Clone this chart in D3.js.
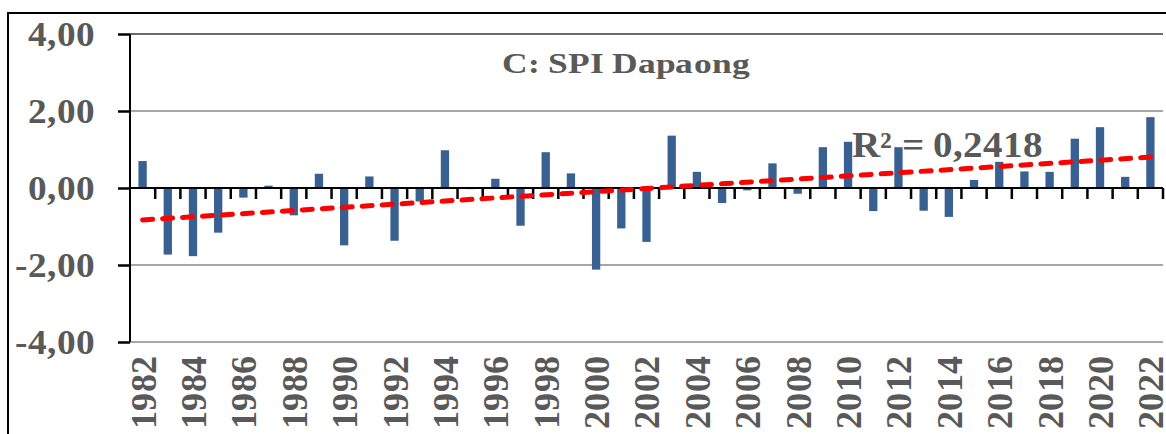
<!DOCTYPE html>
<html>
<head>
<meta charset="utf-8">
<script src="https://cdn.jsdelivr.net/npm/d3@7"></script>
<style>
  @font-face {
    font-family: "TimesBoldLocal";
    src: local("Liberation Serif Bold"), local("LiberationSerif-Bold"),
         local("Times New Roman Bold"), local("TimesNewRomanPS-BoldMT"),
         local("Nimbus Roman Bold"), local("NimbusRoman-Bold"), local("Tinos Bold");
    font-weight: 700;
  }
  html, body { margin: 0; padding: 0; background: #fff; }
  svg { display: block; }
  text { font-family: "TimesBoldLocal", "Liberation Serif", "DejaVu Serif Condensed", serif; font-weight: 700; fill: #595959; }
</style>
</head>
<body>
<script>
const years = d3.range(1982, 2023).map(String);
const spi = [0.70, -1.73, -1.77, -1.16, -0.25, 0.06, -0.71, 0.37, -1.49, 0.30,
             -1.37, -0.35, 0.98, -0.03, 0.24, -0.98, 0.93, 0.38, -2.12, -1.05,
             -1.40, 1.36, 0.42, -0.39, -0.06, 0.64, -0.15, 1.06, 1.20, -0.60,
             1.06, -0.59, -0.75, 0.21, 0.68, 0.43, 0.42, 1.28, 1.58, 0.29, 1.84];
const yTicks = [-4, -2, 0, 2, 4];
const yTickLabels = ["-4,00", "-2,00", "0,00", "2,00", "4,00"];
const xTickLabels = years.filter((d, i) => i % 2 === 0);
const titleText = "C: SPI Dapaong";
const r2Text = "R² = 0,2418";

const FONT = '"TimesBoldLocal", "Liberation Serif", "DejaVu Serif Condensed", serif';
const W = 1166, H = 434;
const svg = d3.select("body").append("svg").attr("width", W).attr("height", H);

// outer frame
svg.append("rect").attr("x", 8).attr("y", 13).attr("width", 1400).attr("height", 800)
  .attr("fill", "none").attr("stroke", "#000").attr("stroke-width", 2);

const x = d3.scaleBand().domain(years).range([130, 1163]).paddingInner(0).paddingOuter(0);
const y = d3.scaleLinear().domain([-4, 4]).range([342, 34]);

// gridlines
svg.append("g").selectAll("line").data(yTicks.filter(d => d !== 0)).join("line")
  .attr("x1", 130).attr("x2", 1163)
  .attr("y1", d => y(d)).attr("y2", d => y(d))
  .attr("stroke", d => d === 4 ? "#3a3a3a" : "#8a8a8a").attr("stroke-width", 1.3);

// bars
const bw = x.bandwidth() * 0.33;
svg.append("g").selectAll("rect").data(spi).join("rect")
  .attr("x", (d, i) => x(years[i]) + (x.bandwidth() - bw) / 2)
  .attr("width", bw)
  .attr("y", d => y(Math.max(0, d)))
  .attr("height", d => Math.abs(y(d) - y(0)))
  .attr("fill", "#386192");

// y axis
const yAxis = d3.axisLeft(y).tickValues(yTicks).tickSize(12)
  .tickFormat(d => yTickLabels[yTicks.indexOf(d)]);
const ya = svg.append("g").attr("transform", "translate(130,0)").call(yAxis)
  .attr("font-family", FONT).attr("font-weight", 700);
ya.select(".domain").attr("stroke", "#000").attr("stroke-width", 2).attr("d", `M0,${y(4)}V${y(-4)}`);
ya.selectAll(".tick line").attr("stroke", "#000").attr("stroke-width", 2.5);
ya.selectAll(".tick text").attr("x", -35).attr("dy", "0.34em")
  .attr("fill", "#595959")
  .style("font-size", "35px").style("font-family", FONT).style("font-weight", "700")
  .attr("textLength", function() { return this.textContent.length === 4 ? 67 : 80; })
  .attr("lengthAdjust", "spacingAndGlyphs");

// zero axis line with ticks at category boundaries
const xa = svg.append("g");
xa.append("line").attr("x1", 130).attr("x2", 1163).attr("y1", y(0)).attr("y2", y(0))
  .attr("stroke", "#000").attr("stroke-width", 2);
const bounds = years.slice(1).map(d => x(d)).concat([1163]);
xa.selectAll("line.tk").data(bounds).join("line").attr("class", "tk")
  .attr("x1", d => d).attr("x2", d => d)
  .attr("y1", y(0)).attr("y2", y(0) + 11)
  .attr("stroke", "#000").attr("stroke-width", 2.5);

// x labels (every two years), rotated
svg.append("g").selectAll("text").data(xTickLabels).join("text")
  .attr("transform", d => `translate(${x(d) + x.bandwidth() / 2},355) rotate(-90)`)
  .attr("text-anchor", "end").attr("dy", "0.35em")
  .attr("textLength", 74).attr("lengthAdjust", "spacingAndGlyphs")
  .style("font-size", "37px").style("font-family", FONT)
  .text(d => d);

// linear trend line (least squares over the series)
const n = spi.length;
const xi = d3.range(n);
const mx = d3.mean(xi), my = d3.mean(spi);
const slope = d3.sum(xi, i => (i - mx) * (spi[i] - my)) / d3.sum(xi, i => (i - mx) ** 2);
const icpt = my - slope * mx;
const cx = i => x(years[i]) + x.bandwidth() / 2;
svg.append("line")
  .attr("x1", cx(0)).attr("y1", y(icpt))
  .attr("x2", cx(n - 1)).attr("y2", y(icpt + slope * (n - 1)))
  .attr("stroke", "#ff0000").attr("stroke-width", 5)
  .attr("stroke-dasharray", "10 10").attr("stroke-linecap", "round");

// title
svg.append("text").attr("x", 502).attr("y", 73)
  .attr("textLength", 248).attr("lengthAdjust", "spacingAndGlyphs")
  .style("font-size", "29px").style("font-family", FONT).text(titleText);

// R² label
svg.append("text").attr("x", 852).attr("y", 157)
  .attr("textLength", 191).attr("lengthAdjust", "spacingAndGlyphs")
  .style("font-size", "37px").style("font-family", FONT).text(r2Text);
</script>
</body>
</html>
